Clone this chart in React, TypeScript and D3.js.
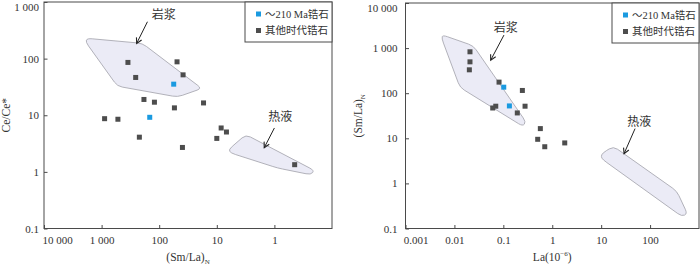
import { useEffect, useRef } from 'react';
import * as d3 from 'd3';

// ---- data ----
const seriesNames = ['～210 Ma锆石', '其他时代锆石'];
const seriesColors = ['#1a9ae0', '#4d4d4d'];

// left: (Sm/La)N vs Ce/Ce*
const leftSmLa = [349, 49, 256, 38.5, 184, 121, 54.4, 17, 887, 521, 221, 39.5, 10, 8.4, 6.8, 0.445];
const leftCe = [85.7, 87.8, 46.5, 51.7, 19, 17, 13.5, 16.5, 8.7, 8.5, 4.1, 2.7, 3.9, 5.96, 5.06, 1.34];
const leftBlueSmLa = [56, 146];
const leftBlueCe = [35.4, 9.2];

// right: La vs (Sm/La)N
const rightLa = [0.0208, 0.0208, 0.0202, 0.0817, 0.245, 0.07, 0.0607, 0.278, 0.193, 0.571, 0.504, 0.703, 1.8];
const rightSmLa = [828, 496, 330, 176, 115, 51.5, 47, 51.5, 36.5, 16.4, 9.5, 6.5, 7.9];
const rightBlueLa = [0.102, 0.133];
const rightBlueSmLa = [136, 52.2];

// fields
const leftMagmaX = [1774, 196, 18.2, 48, 533, 1897];
const leftMagmaY = [228, 186, 29.7, 21, 32.6, 198];
const leftHydroX = [3.13, 0.203, 0.232, 0.88, 5.7, 6.26];
const leftHydroY = [4.55, 1.06, 0.89, 1.17, 2.15, 2.47];
const rightMagmaX = [0.00577, 0.0244, 0.291, 0.249, 0.013, 0.0055];
const rightMagmaY = [1945, 1125, 23, 18.5, 134, 1641];
const rightHydroX = [10.6, 17.8, 352, 579, 445, 10.8, 9.96];
const rightHydroY = [4.7, 6.64, 0.674, 0.212, 0.185, 3.36, 3.92];

// annotations: [labelX, labelY, arrowFromX, arrowFromY, arrowToX, arrowToY]
const leftMagmaNote = [83.6, 589, 160, 448, 246, 186];
const leftHydroNote = [0.79, 9.3, 1.0, 5.96, 1.5, 2.68];
const rightMagmaNote = [0.112, 2884, 0.103, 1945, 0.0552, 541];
const rightHydroNote = [60.4, 23, 49.3, 16.4, 29.4, 4.57];

const leftXTicks = [10000, 1000, 100, 10, 1];
const leftYTicks = [1000, 100, 10, 1, 0.1];
const rightXTicks = [0.001, 0.01, 0.1, 1, 10, 100];
const rightYTicks = [10000, 1000, 100, 10, 1, 0.1];

const SERIF = '"Liberation Serif", "Times New Roman", "Noto Sans CJK SC", serif';
const CJK = '"Noto Sans CJK SC", "Liberation Serif", serif';

const fmt = (v: number) => {
  if (v >= 1000) return d3.format(',')(v).replace(/,/g, ' ');
  return String(v);
};

// rounded-corner closed path from pixel points
function roundedPath(pts: [number, number][], r: number) {
  const n = pts.length;
  let d = '';
  for (let i = 0; i < n; i++) {
    const p0 = pts[(i - 1 + n) % n];
    const p1 = pts[i];
    const p2 = pts[(i + 1) % n];
    const l1 = Math.hypot(p0[0] - p1[0], p0[1] - p1[1]);
    const l2 = Math.hypot(p2[0] - p1[0], p2[1] - p1[1]);
    const r1 = Math.min(r, l1 / 2);
    const r2 = Math.min(r, l2 / 2);
    const a = [p1[0] + ((p0[0] - p1[0]) * r1) / l1, p1[1] + ((p0[1] - p1[1]) * r1) / l1];
    const b = [p1[0] + ((p2[0] - p1[0]) * r2) / l2, p1[1] + ((p2[1] - p1[1]) * r2) / l2];
    d += (i === 0 ? 'M' : 'L') + a[0] + ',' + a[1] + 'Q' + p1[0] + ',' + p1[1] + ' ' + b[0] + ',' + b[1];
  }
  return d + 'Z';
}

interface PanelCfg {
  xDomain: [number, number];
  xRange: [number, number];
  yDomain: [number, number];
  yRange: [number, number];
  xTicks: number[];
  yTicks: number[];
  xTitle: string;
  xSub?: string;
  xSup?: string;
  yTitle: string;
  ySub?: string;
  yTitleX: number;
  yLabelGap: number;
  xs: number[];
  ys: number[];
  blueXs: number[];
  blueYs: number[];
  fields: { xs: number[]; ys: number[] }[];
  notes: { v: number[]; text: string }[];
  legendX: number;
  firstXLabelShift: number;
}

function drawPanel(svg: d3.Selection<SVGSVGElement, unknown, null, undefined>, c: PanelCfg) {
  const x = d3.scaleLog().domain(c.xDomain).range(c.xRange);
  const y = d3.scaleLog().domain(c.yDomain).range(c.yRange);
  const g = svg.append('g');
  const [x0, x1] = c.xRange;
  const [yb, yt] = c.yRange;

  // fields
  c.fields.forEach((f) => {
    const pts = f.xs.map((v, i) => [x(v), y(f.ys[i])] as [number, number]);
    g.append('path')
      .attr('d', roundedPath(pts, 5))
      .attr('fill', '#ebebf6')
      .attr('stroke', '#a9a9b2')
      .attr('stroke-width', 0.9);
  });

  // frame
  g.append('rect')
    .attr('x', x0).attr('y', yt)
    .attr('width', x1 - x0).attr('height', yb - yt)
    .attr('fill', 'none').attr('stroke', '#4a4a4a').attr('stroke-width', 1);

  // x axis
  const xAxis = d3.axisBottom(x).tickValues(c.xTicks).tickSizeInner(-3.5).tickSizeOuter(0)
    .tickFormat((d) => fmt(+d));
  const gx = g.append('g').attr('transform', `translate(0,${yb})`).call(xAxis);
  gx.select('.domain').remove();
  gx.selectAll('line').attr('stroke', '#4a4a4a');
  gx.selectAll('text')
    .attr('font-family', SERIF).attr('font-size', 11).attr('fill', '#333')
    .attr('y', 8)
    .attr('dx', (_d, i) => (i === 0 ? c.firstXLabelShift : 0));

  // y axis
  const yAxis = d3.axisLeft(y).tickValues(c.yTicks).tickSizeInner(-3.5).tickSizeOuter(0)
    .tickFormat((d) => fmt(+d));
  const gy = g.append('g').attr('transform', `translate(${x0},0)`).call(yAxis);
  gy.select('.domain').remove();
  gy.selectAll('line').attr('stroke', '#4a4a4a');
  gy.selectAll('text')
    .attr('font-family', SERIF).attr('font-size', 11).attr('fill', '#333')
    .attr('x', -c.yLabelGap)
    .attr('dy', (d) => (+d === c.yDomain[1] ? '0.75em' : '0.32em'));

  // titles
  const xt = g.append('text')
    .attr('x', (x0 + x1) / 2).attr('y', 261)
    .attr('text-anchor', 'middle')
    .attr('font-family', SERIF).attr('font-size', 11.5).attr('fill', '#333')
    .text(c.xTitle);
  if (c.xSub) xt.append('tspan').attr('font-size', 7).attr('dy', 3).text(c.xSub);
  if (c.xSup) {
    xt.append('tspan').attr('font-size', 7).attr('dy', -5).text(c.xSup);
    xt.append('tspan').attr('dy', 5).text(')');
  }
  const yTitle = g.append('text')
    .attr('transform', `translate(${c.yTitleX},${(yb + yt) / 2}) rotate(-90)`)
    .attr('text-anchor', 'middle')
    .attr('font-family', SERIF).attr('font-size', 11.5).attr('fill', '#333')
    .text(c.yTitle);
  if (c.ySub) yTitle.append('tspan').attr('font-size', 7).attr('dy', 3).text(c.ySub);

  // points
  const sz = 5;
  g.append('g').selectAll('rect').data(c.xs).join('rect')
    .attr('x', (d) => x(d) - sz / 2)
    .attr('y', (_d, i) => y(c.ys[i]) - sz / 2)
    .attr('width', sz).attr('height', sz)
    .attr('fill', seriesColors[1]);
  g.append('g').selectAll('rect').data(c.blueXs).join('rect')
    .attr('x', (d) => x(d) - sz / 2)
    .attr('y', (_d, i) => y(c.blueYs[i]) - sz / 2)
    .attr('width', sz).attr('height', sz)
    .attr('fill', seriesColors[0]);

  // annotations
  c.notes.forEach((n) => {
    const [lx, ly, ax, ay, bx, by] = n.v;
    g.append('text')
      .attr('x', x(lx)).attr('y', y(ly))
      .attr('text-anchor', 'middle').attr('dy', '0.35em')
      .attr('font-family', CJK).attr('font-size', 12).attr('fill', '#333')
      .text(n.text);
    const p1 = [x(ax), y(ay)];
    const p2 = [x(bx), y(by)];
    const ang = Math.atan2(p2[1] - p1[1], p2[0] - p1[0]);
    const h = 6;
    const w = 0.5;
    g.append('line')
      .attr('x1', p1[0]).attr('y1', p1[1]).attr('x2', p2[0]).attr('y2', p2[1])
      .attr('stroke', '#222').attr('stroke-width', 1);
    g.append('path')
      .attr('d', `M${p2[0] - h * Math.cos(ang - w)},${p2[1] - h * Math.sin(ang - w)}L${p2[0]},${p2[1]}L${p2[0] - h * Math.cos(ang + w)},${p2[1] - h * Math.sin(ang + w)}`)
      .attr('fill', 'none').attr('stroke', '#222').attr('stroke-width', 1.1);
  });

  // legend
  const lw = x1 - c.legendX;
  const lg = g.append('g').attr('transform', `translate(${c.legendX},${yt})`);
  lg.append('rect').attr('width', lw).attr('height', 40)
    .attr('fill', '#fff').attr('stroke', '#4a4a4a').attr('stroke-width', 1);
  seriesNames.forEach((name, i) => {
    const cy = 12 + i * 16.5;
    lg.append('rect').attr('x', 11).attr('y', cy - 2.5).attr('width', 5).attr('height', 5)
      .attr('fill', seriesColors[i]);
    lg.append('text').attr('x', 20).attr('y', cy).attr('dy', '0.35em')
      .attr('font-family', SERIF).attr('font-size', 10.5).attr('fill', '#333')
      .text(name);
  });
}

export default function App() {
  const ref = useRef<SVGSVGElement>(null);

  useEffect(() => {
    if (!ref.current) return;
    const svg = d3.select(ref.current);
    svg.selectAll('*').remove();

    drawPanel(svg, {
      xDomain: [10000, 0.1], xRange: [44, 332],
      yDomain: [0.1, 1000], yRange: [228.5, 2],
      xTicks: leftXTicks, yTicks: leftYTicks,
      xTitle: '(Sm/La)', xSub: 'N',
      yTitle: 'Ce/Ce*', yTitleX: 10, yLabelGap: 5,
      xs: leftSmLa, ys: leftCe, blueXs: leftBlueSmLa, blueYs: leftBlueCe,
      fields: [{ xs: leftMagmaX, ys: leftMagmaY }, { xs: leftHydroX, ys: leftHydroY }],
      notes: [{ v: leftMagmaNote, text: '岩浆' }, { v: leftHydroNote, text: '热液' }],
      legendX: 245, firstXLabelShift: 13,
    });

    drawPanel(svg, {
      xDomain: [0.001, 1000], xRange: [405.5, 699],
      yDomain: [0.1, 10000], yRange: [228.5, 3],
      xTicks: rightXTicks, yTicks: rightYTicks,
      xTitle: 'La(10', xSup: '−6',
      yTitle: '(Sm/La)', ySub: 'N', yTitleX: 362, yLabelGap: 8,
      xs: rightLa, ys: rightSmLa, blueXs: rightBlueLa, blueYs: rightBlueSmLa,
      fields: [{ xs: rightMagmaX, ys: rightMagmaY }, { xs: rightHydroX, ys: rightHydroY }],
      notes: [{ v: rightMagmaNote, text: '岩浆' }, { v: rightHydroNote, text: '热液' }],
      legendX: 612, firstXLabelShift: 10,
    });
  }, []);

  return (
    <svg
      ref={ref}
      width={700}
      height={265}
      style={{ position: 'absolute', left: 0, top: 0, background: '#fff' }}
    />
  );
}
